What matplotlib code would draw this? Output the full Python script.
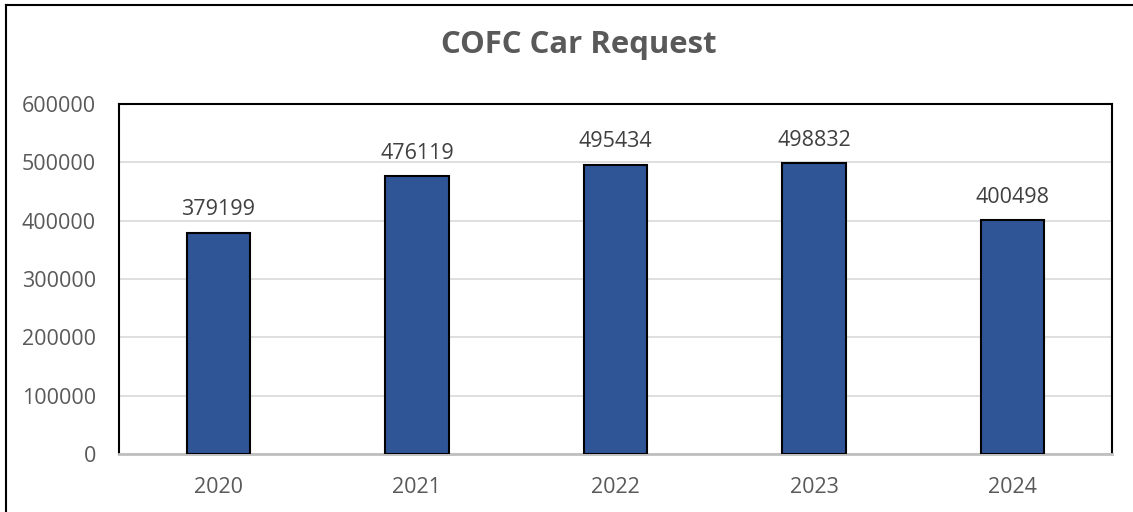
import matplotlib
matplotlib.use("Agg")
import matplotlib.pyplot as plt
from matplotlib.lines import Line2D

years = ["2020", "2021", "2022", "2023", "2024"]
requests = [379199, 476119, 495434, 498832, 400498]
y_ticks = [0, 100000, 200000, 300000, 400000, 500000, 600000]

W, H = 1133, 512
fig = plt.figure(figsize=(W / 100, H / 100), dpi=100)
fig.patch.set_facecolor("white")

# plot area in pixel coordinates
left, right, top, bottom = 119, 1112, 104, 454
ax = fig.add_axes([left / W, 1 - bottom / H, (right - left) / W, (bottom - top) / H])

text_color = "#595959"
font = "Open Sans"
fs = 15.5

x = range(len(years))
ax.bar(x, requests, width=0.32, color="#2F5597", edgecolor="black", linewidth=1.5, zorder=3)
for xi, v in zip(x, requests):
    ax.annotate(str(v), (xi, v), xytext=(0, 9), textcoords="offset points",
                ha="center", va="bottom", fontsize=fs, color="#404040", family=font)

ax.set_xlim(-0.5, len(years) - 0.5)
ax.set_ylim(0, 600000)
ax.set_yticks(y_ticks)
ax.set_yticklabels([str(t) for t in y_ticks], fontsize=fs, color=text_color, family=font)
ax.set_xticks(list(x))
ax.set_xticklabels(years, fontsize=fs, color=text_color, family=font)
ax.tick_params(axis="both", length=0)
ax.tick_params(axis="y", pad=16.5)
ax.tick_params(axis="x", pad=16.5)

ax.grid(axis="y", color="#D9D9D9", linewidth=1.2, zorder=0)
for side in ["left", "top", "right"]:
    ax.spines[side].set_color("black")
    ax.spines[side].set_linewidth(1.5)
ax.spines["bottom"].set_color("#BFBFBF")
ax.spines["bottom"].set_linewidth(2)

fig.text(579 / W, 1 - 45 / H, "COFC Car Request", ha="center", va="center",
         fontsize=22.4, fontweight="bold", color=text_color, family=font)

# outer chart frame (top and left edges)
fig.add_artist(Line2D([6 / W, 1], [1 - 5 / H, 1 - 5 / H], transform=fig.transFigure,
                      color="black", linewidth=1.5))
fig.add_artist(Line2D([6 / W, 6 / W], [0, 1 - 5 / H], transform=fig.transFigure,
                      color="black", linewidth=1.5))

fig.savefig("out.png", dpi=100)
